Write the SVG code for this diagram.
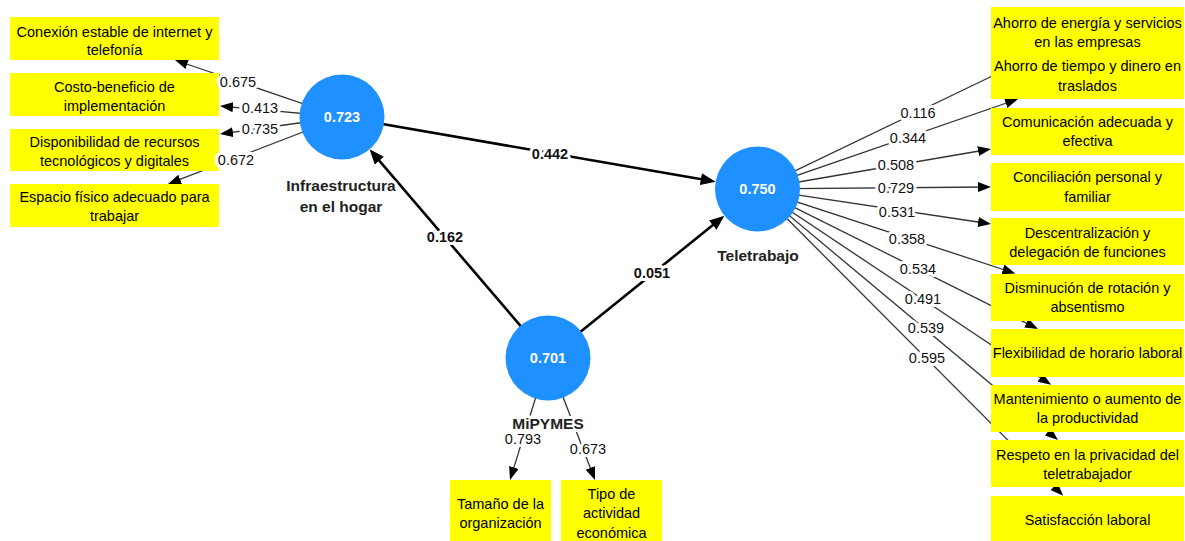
<svg xmlns="http://www.w3.org/2000/svg" width="1185" height="541" viewBox="0 0 1185 541">
<style>
.box{fill:#ffff00}
.bt{font-family:"Liberation Sans",Arial,sans-serif;font-size:14.5px;fill:#000;text-anchor:middle}
.ol{stroke:#333;stroke-width:1.3;fill:none}
.sl{stroke:#000;stroke-width:2.6;fill:none}
.lab{font-family:"Liberation Sans",Arial,sans-serif;font-size:14.5px;fill:#111;text-anchor:middle;stroke:#fff;stroke-width:6;stroke-linejoin:round;paint-order:stroke}
.slab{font-family:"Liberation Sans",Arial,sans-serif;font-size:14.5px;font-weight:bold;fill:#111;text-anchor:middle;stroke:#fff;stroke-width:6;stroke-linejoin:round;paint-order:stroke}
.circ{fill:#1e90ff}
.cv{font-family:"Liberation Sans",Arial,sans-serif;font-size:14.5px;font-weight:bold;fill:#fff;text-anchor:middle}
.ln{font-family:"Liberation Sans",Arial,sans-serif;font-size:15.5px;font-weight:bold;fill:#222;text-anchor:middle;stroke:#fff;stroke-width:6;stroke-linejoin:round;paint-order:stroke}
</style>
<defs>
<marker id="ao" markerUnits="userSpaceOnUse" markerWidth="14" markerHeight="11" refX="10" refY="5" orient="auto"><path d="M0,0 L13,5 L0,10 z" fill="#000"/></marker>
<marker id="as" markerUnits="userSpaceOnUse" markerWidth="16" markerHeight="13" refX="11" refY="6" orient="auto"><path d="M0,0 L15,6 L0,12 z" fill="#000"/></marker>
</defs>
<g id="connectors">
<line class="ol" x1="342" y1="117" x2="177.8" y2="61" marker-end="url(#ao)"/>
<line class="ol" x1="342" y1="117" x2="223" y2="106.3" marker-end="url(#ao)"/>
<line class="ol" x1="342" y1="117" x2="223" y2="133.6" marker-end="url(#ao)"/>
<line class="ol" x1="342" y1="117" x2="170.8" y2="182.9" marker-end="url(#ao)"/>
<line class="ol" x1="757.5" y1="189" x2="1035.3" y2="55.3" marker-end="url(#ao)"/>
<line class="ol" x1="757.5" y1="189" x2="1015.2" y2="100" marker-end="url(#ao)"/>
<line class="ol" x1="757.5" y1="189" x2="988" y2="149.5" marker-end="url(#ao)"/>
<line class="ol" x1="757.5" y1="189" x2="988" y2="187" marker-end="url(#ao)"/>
<line class="ol" x1="757.5" y1="189" x2="988" y2="223.5" marker-end="url(#ao)"/>
<line class="ol" x1="757.5" y1="189" x2="1012.4" y2="272.5" marker-end="url(#ao)"/>
<line class="ol" x1="757.5" y1="189" x2="1035.3" y2="327.6" marker-end="url(#ao)"/>
<line class="ol" x1="757.5" y1="189" x2="1048.6" y2="383.2" marker-end="url(#ao)"/>
<line class="ol" x1="757.5" y1="189" x2="1055.7" y2="438.1" marker-end="url(#ao)"/>
<line class="ol" x1="757.5" y1="189" x2="1061.1" y2="493.6" marker-end="url(#ao)"/>
<line class="ol" x1="548" y1="358" x2="510.9" y2="477.1" marker-end="url(#ao)"/>
<line class="ol" x1="548" y1="358" x2="593.9" y2="477.2" marker-end="url(#ao)"/>
<line class="sl" x1="342" y1="117" x2="711.7" y2="181" marker-end="url(#as)"/>
<line class="sl" x1="548" y1="358" x2="372.2" y2="152.4" marker-end="url(#as)"/>
<line class="sl" x1="548" y1="358" x2="721.3" y2="218.2" marker-end="url(#as)"/>
</g>
<g id="n-conexion"><rect class="box" x="10" y="17" width="209" height="43"/><text class="bt" x="114.5" y="37">Conexión estable de internet y</text><text class="bt" x="114.5" y="55">telefonía</text></g>
<g id="n-costo"><rect class="box" x="10" y="73" width="209" height="43"/><text class="bt" x="114.5" y="92">Costo-beneficio de</text><text class="bt" x="114.5" y="111">implementación</text></g>
<g id="n-disponibilidad"><rect class="box" x="10" y="129" width="209" height="42"/><text class="bt" x="114.5" y="147">Disponibilidad de recursos</text><text class="bt" x="114.5" y="166">tecnológicos y digitales</text></g>
<g id="n-espacio"><rect class="box" x="10" y="184" width="209" height="43"/><text class="bt" x="114.5" y="202">Espacio físico adecuado para</text><text class="bt" x="114.5" y="221">trabajar</text></g>
<g id="n-ahorro-energia"><rect class="box" x="991" y="7" width="193" height="47"/><text class="bt" x="1087.5" y="28">Ahorro de energía y servicios</text><text class="bt" x="1087.5" y="47">en las empresas</text></g>
<g id="n-ahorro-tiempo"><rect class="box" x="991" y="52" width="193" height="47"/><text class="bt" x="1087.5" y="71">Ahorro de tiempo y dinero en</text><text class="bt" x="1087.5" y="91">traslados</text></g>
<g id="n-comunicacion"><rect class="box" x="991" y="108" width="193" height="47"/><text class="bt" x="1087.5" y="127">Comunicación adecuada y</text><text class="bt" x="1087.5" y="146">efectiva</text></g>
<g id="n-conciliacion"><rect class="box" x="991" y="163" width="193" height="48"/><text class="bt" x="1087.5" y="182">Conciliación personal y</text><text class="bt" x="1087.5" y="202">familiar</text></g>
<g id="n-descentralizacion"><rect class="box" x="991" y="218" width="193" height="47"/><text class="bt" x="1087.5" y="238">Descentralización y</text><text class="bt" x="1087.5" y="257">delegación de funciones</text></g>
<g id="n-disminucion"><rect class="box" x="991" y="274" width="193" height="47"/><text class="bt" x="1087.5" y="293">Disminución de rotación y</text><text class="bt" x="1087.5" y="312">absentismo</text></g>
<g id="n-flexibilidad"><rect class="box" x="991" y="329" width="193" height="48"/><text class="bt" x="1087.5" y="358">Flexibilidad de horario laboral</text></g>
<g id="n-mantenimiento"><rect class="box" x="991" y="385" width="193" height="47"/><text class="bt" x="1087.5" y="404">Mantenimiento o aumento de</text><text class="bt" x="1087.5" y="423">la productividad</text></g>
<g id="n-respeto"><rect class="box" x="991" y="440" width="193" height="47"/><text class="bt" x="1087.5" y="460">Respeto en la privacidad del</text><text class="bt" x="1087.5" y="479">teletrabajador</text></g>
<g id="n-satisfaccion"><rect class="box" x="991" y="496" width="193" height="47"/><text class="bt" x="1087.5" y="525">Satisfacción laboral</text></g>
<g id="n-tamano"><rect class="box" x="450" y="480" width="101" height="65"/><text class="bt" x="500.5" y="509">Tamaño de la</text><text class="bt" x="500.5" y="528">organización</text></g>
<g id="n-tipo"><rect class="box" x="561" y="480" width="101" height="65"/><text class="bt" x="611.5" y="499">Tipo de</text><text class="bt" x="611.5" y="518">actividad</text><text class="bt" x="611.5" y="538">económica</text></g>
<g id="n-infraestructura"><circle class="circ" cx="342" cy="117" r="42.5"/><text class="cv" x="342" y="122">0.723</text><text class="ln" x="341" y="191">Infraestructura</text><text class="ln" x="341" y="212">en el hogar</text></g>
<g id="n-teletrabajo"><circle class="circ" cx="757.5" cy="189" r="42.5"/><text class="cv" x="757.5" y="194">0.750</text><text class="ln" x="758" y="261">Teletrabajo</text></g>
<g id="n-mipymes"><circle class="circ" cx="548" cy="358" r="42.5"/><text class="cv" x="548" y="363">0.701</text><text class="ln" x="548" y="429">MiPYMES</text></g>
<g id="labels">
<text class="lab" x="238" y="87">0.675</text>
<text class="lab" x="260" y="113">0.413</text>
<text class="lab" x="260" y="134">0.735</text>
<text class="lab" x="236" y="165">0.672</text>
<text class="lab" x="918" y="118">0.116</text>
<text class="lab" x="908" y="143">0.344</text>
<text class="lab" x="896" y="170">0.508</text>
<text class="lab" x="896" y="193">0.729</text>
<text class="lab" x="897" y="217">0.531</text>
<text class="lab" x="907" y="244">0.358</text>
<text class="lab" x="918" y="274">0.534</text>
<text class="lab" x="923" y="304">0.491</text>
<text class="lab" x="926" y="333">0.539</text>
<text class="lab" x="927" y="363">0.595</text>
<text class="lab" x="523" y="444">0.793</text>
<text class="lab" x="588" y="454">0.673</text>
<text class="slab" x="550" y="159">0.442</text>
<text class="slab" x="445" y="242">0.162</text>
<text class="slab" x="652" y="278">0.051</text>
</g>
</svg>
